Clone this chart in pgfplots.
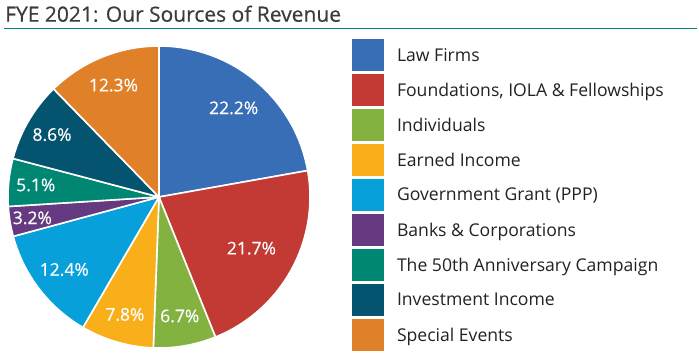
\documentclass[border=0pt]{standalone}
\usepackage{pgfplots}
\pgfplotsset{compat=1.18}
\usepackage{pgfplotstable}
\usepackage{fontspec}
\setmainfont{Open Sans}
\newfontfamily\semib{Open Sans}[FakeBold=0.5]
\definecolor{cLaw}{HTML}{386EB6}
\definecolor{cFound}{HTML}{C33A34}
\definecolor{cIndiv}{HTML}{84B241}
\definecolor{cEarned}{HTML}{F8AF19}
\definecolor{cGov}{HTML}{08A0DB}
\definecolor{cBanks}{HTML}{663A80}
\definecolor{cFifty}{HTML}{008774}
\definecolor{cInvest}{HTML}{04536F}
\definecolor{cSpecial}{HTML}{E08129}
\definecolor{titlegray}{HTML}{3B3B3B}
\definecolor{textgray}{HTML}{222222}
\definecolor{ruleteal}{HTML}{00897A}

% share of revenue (%), slice colour, label radius (fraction of pie radius)
\pgfplotstableread[col sep=semicolon]{
source;value;color;lr
LawFirms;22.2;cLaw;0.77
Foundations;21.7;cFound;0.70
Individuals;6.7;cIndiv;0.80
EarnedIncome;7.8;cEarned;0.81
GovernmentGrant;12.4;cGov;0.79
Banks;3.2;cBanks;0.85
Fiftieth;5.1;cFifty;0.82
Investment;8.6;cInvest;0.82
SpecialEvents;12.3;cSpecial;0.80
}\revenue

\begin{document}
\begin{tikzpicture}
\useasboundingbox (0pt,0pt) rectangle (699pt,361pt);
\node[anchor=base west, inner sep=0pt, font=\semib\fontsize{21}{25}\selectfont, text=titlegray] at (5pt,339.3pt) {FYE 2021: Our Sources of Revenue};
\draw[ruleteal, line width=1.5pt] (4pt,332.7pt) -- (697pt,332.7pt);
\begin{axis}[
  at={(159pt,164pt)}, anchor=center,
  width=302pt, height=302pt, scale only axis,
  xmin=-1, xmax=1, ymin=-1, ymax=1,
  hide axis, clip=false,
  legend style={draw=none, fill=none, at={(1.1391,1.0222)}, anchor=north west,
    inner sep=0pt, outer sep=0pt, row sep=3pt, column sep=13pt,
    font=\fontsize{17.6}{20}\selectfont, text=textgray, nodes={inner sep=0pt}},
  legend cell align=left,
  legend image code/.code={\fill[#1, draw=none] (0pt,-16pt) rectangle (32pt,16pt);},
]
\pgfmathsetmacro\cum{0}
\pgfplotsforeachungrouped \i in {0,...,8}{%
  \pgfplotstablegetelem{\i}{value}\of\revenue\let\val\pgfplotsretval
  \pgfplotstablegetelem{\i}{color}\of\revenue\let\col\pgfplotsretval
  \pgfplotstablegetelem{\i}{lr}\of\revenue\let\lr\pgfplotsretval
  \pgfmathsetmacro\a{90-3.6*\cum}
  \pgfmathsetmacro\b{90-3.6*(\cum+\val)}
  \pgfmathsetmacro\m{(\a+\b)/2}
  \pgfmathsetmacro\lx{\lr*cos(\m)}
  \pgfmathsetmacro\ly{\lr*sin(\m)}
  \edef\slice{\noexpand\addplot[fill=\col, draw=white, line width=1.6pt, line join=round, domain=\b:\a, samples=90, variable=\noexpand\t]
     ({cos(\noexpand\t)},{sin(\noexpand\t)}) -- (axis cs:0,0) -- cycle;
     \noexpand\node[text=white, font=\noexpand\semib\noexpand\fontsize{17.5}{20}\noexpand\selectfont] at (axis cs:\lx,\ly) {\val\noexpand\%};}%
  \slice
  \pgfmathsetmacro\cum{\cum+\val}
}
\legend{Law Firms, {Foundations, IOLA \& Fellowships}, Individuals, Earned Income, Government Grant (PPP), Banks \& Corporations, The 50th Anniversary Campaign, Investment Income, Special Events}
\end{axis}
\end{tikzpicture}
\end{document}
